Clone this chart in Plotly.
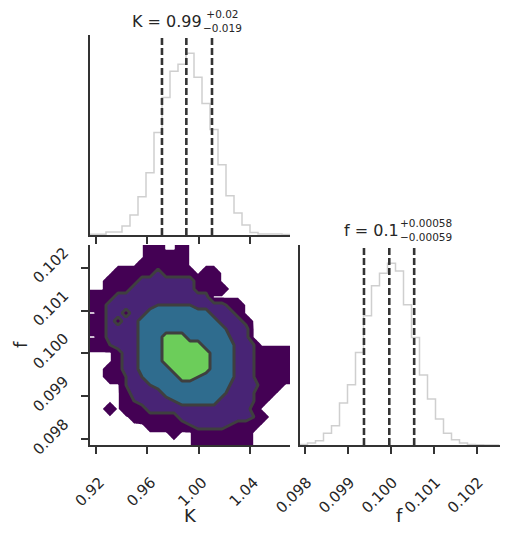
import numpy as np
import plotly.graph_objects as go

# the page is shown in a 509x534 window; the html body keeps an 8px margin
W, H = 509, 534
OFF = 8
FW, FH = W - 2 * OFF, H - 2 * OFF

# ---- values ----
K_range = [0.9154, 1.0713]
f_range = [0.097867, 0.102529]
K_ticks = [0.92, 0.96, 1.00, 1.04]
f_ticks = [0.098, 0.099, 0.100, 0.101, 0.102]

# 1D histogram counts, 25 equal bins over the axis range
K_counts = [5, 5, 21, 21, 63, 140, 266, 434, 714, 959, 1141, 1190, 1267,
            1099, 917, 735, 490, 273, 154, 70, 18, 7, 7, 7, 4]
f_counts = [4, 14, 30, 82, 135, 294, 422, 649, 905, 1115, 1204, 1274, 1220,
            982, 754, 490, 322, 182, 82, 37, 14, 4, 1, 0, 0]

# 16th / 50th / 84th percentiles
K_quantiles = [0.9715, 0.9905, 1.0105]
f_quantiles = [0.09937, 0.09996, 0.10054]

# 2D density per (K, f) bin, first row = highest f
density_rows = [
    "0000000220020000000000000",
    "0000000222220000000000000",
    "0000002222220000000000000",
    "0002222242222022000000000",
    "0022224444444222000000000",
    "0022244444444222200000000",
    "2224444444444440000000000",
    "2244444455555444422000000",
    "0244244666666664442000000",
    "2242446666666666444200000",
    "2244446666666666644400000",
    "0244446668886666654400000",
    "2234446668888866664430000",
    "0002446668888886664432222",
    "0002446668888886664432222",
    "0022446666888886664432222",
    "0022345666688766664432222",
    "0000344566666666654442220",
    "0000244446666666644432200",
    "0000234444566666444432000",
    "0020222444444444444420000",
    "0000012222244444444432000",
    "0000000222223444432220000",
    "0000000000200222222200000",
    "0000000000000222222200000",
]
outer_level = 0.2
inner_start, inner_end, inner_step = 3, 7, 2

# ---- geometry (pixels of the 509x534 window) ----
col_left = (90, 290)
col_right = (299.5, 499.5)
row_top = (35, 235)
row_bottom = (245, 445)


def px_x(a, b):
    return [(a - OFF) / FW, (b - OFF) / FW]


def px_y(a, b):
    return [1 - (b - OFF) / FH, 1 - (a - OFF) / FH]


INK = "#333333"
TEXT = "#262626"
FONT = "DejaVu Sans"

n_bins = len(K_counts)
K_edges = np.linspace(K_range[0], K_range[1], n_bins + 1)
f_edges = np.linspace(f_range[0], f_range[1], n_bins + 1)
K_centers = 0.5 * (K_edges[1:] + K_edges[:-1])
f_centers = 0.5 * (f_edges[1:] + f_edges[:-1])

z = np.array([[float(c) for c in row] for row in density_rows[::-1]])
z = np.pad(z, 1, mode="edge")
dK = K_edges[1] - K_edges[0]
df = f_edges[1] - f_edges[0]
Kx = np.concatenate([[K_centers[0] - dK], K_centers, [K_centers[-1] + dK]])
fy = np.concatenate([[f_centers[0] - df], f_centers, [f_centers[-1] + df]])

fig = go.Figure()

# marginal histograms (step outlines)
fig.add_trace(go.Scatter(
    x=K_edges, y=list(K_counts) + [K_counts[-1]], mode="lines",
    line=dict(shape="hv", color="#cfcfcf", width=1.5),
    xaxis="x", yaxis="y", hoverinfo="skip", showlegend=False,
))
fig.add_trace(go.Scatter(
    x=f_edges, y=list(f_counts) + [f_counts[-1]], mode="lines",
    line=dict(shape="hv", color="#cfcfcf", width=1.5),
    xaxis="x3", yaxis="y3", hoverinfo="skip", showlegend=False,
))

# 2D density: outer filled region, then the three inner levels with outlines
fig.add_trace(go.Contour(
    x=Kx, y=fy, z=z, xaxis="x2", yaxis="y2",
    contours=dict(start=outer_level, end=outer_level, size=1, coloring="fill"),
    colorscale=[[0, "rgba(255,255,255,0)"], [1, "#440154"]],
    line=dict(width=0, smoothing=0), showscale=False, hoverinfo="skip",
))
fig.add_trace(go.Contour(
    x=Kx, y=fy, z=z, xaxis="x2", yaxis="y2",
    contours=dict(start=inner_start, end=inner_end, size=inner_step, coloring="fill"),
    colorscale=[[0, "rgba(255,255,255,0)"], [1 / 3, "#482475"],
                [2 / 3, "#2f6c8e"], [1, "#6ccd5a"]],
    line=dict(width=3, color="#3f3f3f", smoothing=0),
    showscale=False, hoverinfo="skip",
))

# quantile markers
for q in K_quantiles:
    fig.add_shape(type="line", xref="x", yref="y domain", x0=q, x1=q, y0=0, y1=1,
                  line=dict(color="#333333", width=2.6, dash="7px,3px"))
for q in f_quantiles:
    fig.add_shape(type="line", xref="x3", yref="y3 domain", x0=q, x1=q, y0=0, y1=1,
                  line=dict(color="#333333", width=2.6, dash="7px,3px"))

axis_common = dict(showgrid=False, zeroline=False, showline=True, linecolor=INK,
                   linewidth=1.5, ticks="outside", ticklen=7, tickwidth=1.5,
                   tickcolor=INK, automargin=False,
                   tickfont=dict(family=FONT, size=15, color=TEXT))

fig.update_layout(
    width=FW, height=FH,
    margin=dict(l=0, r=0, t=0, b=0),
    paper_bgcolor="white", plot_bgcolor="white",
    showlegend=False,
    font=dict(family=FONT, color=TEXT),
    xaxis=dict(axis_common, domain=px_x(*col_left), anchor="y", range=K_range,
               tickvals=K_ticks, showticklabels=False),
    yaxis=dict(axis_common, domain=px_y(*row_top), anchor="x",
               range=[0, 1.1 * max(K_counts)], ticks="", showticklabels=False),
    xaxis2=dict(axis_common, domain=px_x(*col_left), anchor="y2", range=K_range,
                tickvals=K_ticks, tickformat=".2f", tickangle=-45,
                ticklabelshift=4, ticklabelstandoff=14),
    yaxis2=dict(axis_common, domain=px_y(*row_bottom), anchor="x2", range=f_range,
                tickvals=f_ticks, tickformat=".3f", tickangle=-45,
                ticklabelshift=-17, ticklabelstandoff=14),
    xaxis3=dict(axis_common, domain=px_x(*col_right), anchor="y3", range=f_range,
                tickvals=f_ticks, tickformat=".3f", tickangle=-45,
                ticklabelshift=2, ticklabelstandoff=14),
    yaxis3=dict(axis_common, domain=px_y(*row_bottom), anchor="x3",
                range=[0, 1.1 * max(f_counts)], ticks="", showticklabels=False),
)


def label(text, x, y, size, xanchor="center", angle=0):
    fig.add_annotation(text=text, x=(x - OFF) / FW, y=1 - (y - OFF) / FH,
                       xref="paper", yref="paper",
                       showarrow=False, xanchor=xanchor, yanchor="middle",
                       textangle=angle, borderpad=0,
                       font=dict(family=FONT, size=size, color=TEXT))


# panel titles with stacked upper / lower errors
label("K = 0.99", 203, 22, 16, xanchor="right")
label("+0.02<br>\u22120.019", 202, 21, 10.5, xanchor="left")
label("f = 0.1", 400, 231, 16, xanchor="right")
label("+0.00058<br>\u22120.00059", 399, 230, 10.5, xanchor="left")

# axis labels
label("K", 190, 515, 18)
label("f", 399.5, 515, 18)
label("f", 20, 345, 18, angle=-90)

fig.write_html("out.html")
